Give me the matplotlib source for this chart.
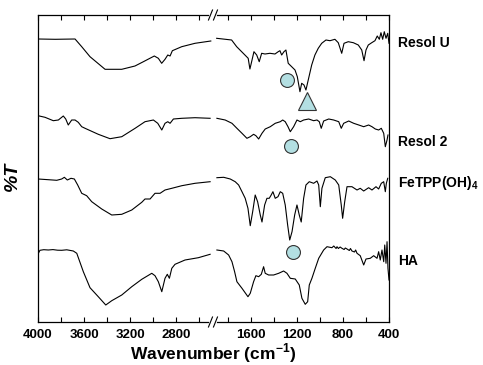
import numpy as np
import matplotlib
matplotlib.use("Agg")
import matplotlib.pyplot as plt

plt.rcParams['font.family'] = ['Liberation Sans', 'DejaVu Sans']
plt.rcParams['mathtext.fontset'] = 'custom'
plt.rcParams['mathtext.rm'] = 'Liberation Sans'
plt.rcParams['mathtext.bf'] = 'Liberation Sans:bold'

# FTIR traces. wavenumber (cm-1) and %T relative to each trace's baseline
resol_u_wn_l = [4000, 3850, 3678, 3620, 3548, 3417, 3272, 3157, 3084, 2989, 2954, 2925, 2896, 2872, 2852, 2832, 2751, 2635, 2498]
resol_u_t_l = [0, -0.3, 0, -7.7, -17.7, -30.3, -30.3, -27, -22.7, -17, -19.3, -24.3, -20.3, -16, -17, -11.7, -7.7, -4.3, -2]
resol_u_wn_r = [1898, 1768, 1724, 1667, 1624, 1609, 1594, 1574, 1550, 1528, 1507, 1478, 1435, 1391, 1363, 1348, 1333, 1313,
                1296, 1276, 1246, 1217, 1197, 1174, 1159, 1139, 1122, 1102, 1072, 1044, 1015, 985, 948, 913, 870, 841, 811,
                791, 754, 710, 667, 637, 617, 600, 580, 550, 522, 502, 484, 470, 455, 441, 426, 411, 400]
resol_u_t_r = [0.7, -1, -7.7, -14.3, -19.3, -30, -22.7, -12.7, -16, -22.7, -14.3, -15, -14.3, -15, -12.7, -11.7, -16, -12.7,
               -11, -24.3, -27.7, -31, -37.7, -52.7, -44.3, -46, -51, -41, -26, -16, -9.3, -4.3, -1, -1.7, -0.3, -3.7, -14.3,
               -4.3, -2.7, -3.7, -6, -11, -21.7, -11, -6, -3.7, -1.7, 3, -0.3, 6.3, -0.3, 7.3, 0.7, 5.7, -4.3]

resol_2_wn_l = [4000, 3939, 3867, 3823, 3780, 3759, 3737, 3707, 3678, 3650, 3620, 3591, 3476, 3374, 3272, 3156, 3070, 2997,
                2959, 2924, 2896, 2872, 2852, 2823, 2750, 2635, 2504]
resol_2_t_l = [2.3, 0.7, -2.7, -2, 2, -1, -7, -2, -2, -4.3, -8.7, -10.3, -16.3, -20.7, -18.7, -10.3, -3.7, -2,
               -5.3, -12, -5.3, -3.7, -5.3, -1, -0.3, 0.3, -0.3]
resol_2_wn_r = [1896, 1824, 1765, 1722, 1678, 1635, 1606, 1577, 1557, 1533, 1504, 1476, 1432, 1389, 1345, 1324, 1302, 1278,
                1258, 1229, 1200, 1171, 1142, 1098, 1055, 1026, 1006, 989, 968, 924, 881, 837, 815, 794, 750, 707, 663, 620,
                577, 548, 519, 490, 467, 446, 432, 417, 409]
resol_2_t_r = [-0.3, -2, -5.3, -10.3, -15.3, -20.3, -18.7, -16.3, -17.7, -21, -15.3, -11, -8.7, -5.3, -3.7, -2, -3.7, -8.7,
               -13.7, -8.7, -2, -3.7, -2, -1, -2.7, -2, -3.7, -10.3, -3, -1, -2, -3.7, -10.3, -5.3, -3, -5.3, -7, -8.7,
               -7, -8.7, -11, -12, -10.3, -15.3, -28.7, -22, -17]

fetpp_wn_l = [4000, 3910, 3837, 3794, 3771, 3745, 3713, 3684, 3655, 3620, 3577, 3533, 3446, 3359, 3272, 3185, 3098, 3070,
              3026, 2983, 2939, 2896, 2837, 2750, 2635, 2504]
fetpp_t_l = [0, -0.7, -1.3, 0, 1.7, -1, 0.7, 0, -6, -14.3, -16.7, -22.7, -30, -36, -35.3, -31, -23.3, -20,
             -20, -14.3, -14.3, -11, -9.3, -6.7, -4.3, -2.7]
fetpp_wn_r = [1896, 1837, 1780, 1737, 1707, 1678, 1650, 1626, 1606, 1585, 1563, 1542, 1519, 1504, 1481, 1461, 1441, 1424,
              1409, 1389, 1365, 1345, 1324, 1302, 1281, 1263, 1243, 1220, 1200, 1180, 1163, 1142, 1122, 1093, 1055, 1026,
              1011, 997, 983, 954, 910, 867, 837, 815, 803, 785, 765, 722, 678, 650, 620, 577, 548, 513, 490, 467, 446,
              432, 423, 411]
fetpp_t_r = [1.3, 1.7, 0, -2.7, -6, -12.7, -19.3, -29.3, -46.7, -32.7, -16, -22.7, -36, -43, -26, -19.3, -19.3, -16,
             -12.7, -19.3, -17.7, -12.7, -14.3, -26, -46, -61, -52.7, -36, -26, -36, -43, -19.3, -6, -2.7, -4.3, -2,
             -6, -27.7, -9.3, 1.3, 2.3, -1, -6, -26, -39.3, -22.7, -7.7, -7.7, -11, -9.3, -12, -8.7, -11, -7.7, -10, -4.3, -2.7,
             -12.7, -4.3, 0.7]

ha_wn_l = [4000, 3983, 3950, 3910, 3870, 3830, 3794, 3750, 3693, 3663, 3606, 3548, 3476, 3411, 3359, 3272, 3185, 3098, 3011,
           2983, 2954, 2924, 2896, 2876, 2858, 2837, 2809, 2722, 2606, 2504]
ha_t_l = [-4, -0.3, 0.3, 0, 0.4, -0.2, -0.3, 0.2, -1, -3.3, -21.7, -37.7, -46.7, -55, -50.7, -45, -36.7, -29.3, -23.3,
          -25.7, -31.7, -41.7, -28.3, -24.3, -28.3, -18.3, -14.3, -10, -7.7, -4.3]
ha_wn_r = [1896, 1837, 1794, 1765, 1742, 1722, 1678, 1626, 1606, 1577, 1557, 1533, 1510, 1490, 1476, 1446, 1403, 1359,
           1316, 1287, 1258, 1215, 1180, 1157, 1128, 1107, 1093, 1070, 1041, 1011, 968, 939, 896, 880, 860, 852, 840,
           825, 809, 790, 780, 765, 745, 735, 722, 700, 690, 678, 650, 620, 600, 563, 533, 504, 490, 476, 461, 446, 437,
           426, 417, 409, 400]
ha_t_r = [0, -1, -5, -11.7, -21.7, -31.7, -38.3, -46.7, -43.3, -31.7, -25.7, -26.7, -24.3, -16.7, -23.3, -25, -25, -23.3,
          -21, -23.3, -28.3, -29, -35, -48.3, -54.3, -51.7, -35, -28.3, -18.3, -8.3, 0, 3.3, 2.3, 4, 1.5, 3.3, 1.5,
          3, 1.7, 0.5, 2, 1, -0.5, 1.5, -1, -2, 0, -3.3, -5.7, -15, -9, -8.3, -5.7, -8.3, -1.7, -10, 0, -11.7, 5,
          -13.3, 8.3, -18.3, -30]

names = ['Resol U', 'Resol 2', 'FeTPP(OH)$_\\mathbf{4}$', 'HA']
offsets = [283, 204, 143, 72]
label_y = [43.3, 141.7, 183.5, 261]

# band markers: (wavenumber, %T relative to the trace)
circle_wn = [1290, 1252, 1232]
circle_t = [-41, -28, -1.7]
circle_of = [0, 1, 3]
tri_wn = [1110]
tri_t = [-62]
tri_of = [0]

traces = [
    (resol_u_wn_l, resol_u_t_l, resol_u_wn_r, resol_u_t_r),
    (resol_2_wn_l, resol_2_t_l, resol_2_wn_r, resol_2_t_r),
    (fetpp_wn_l, fetpp_t_l, fetpp_wn_r, fetpp_t_r),
    (ha_wn_l, ha_t_l, ha_wn_r, ha_t_r),
]

# broken axis: squeeze 2480..1930 down to nothing
B1, B2, G = 2480.0, 1930.0, 1.0

def fwd(x):
    x = np.asarray(x, float)
    return np.where(x <= B2, x, np.where(x >= B1, x - (B1 - B2) + G, B2 + (x - B2) * G / (B1 - B2)))

def inv(u):
    u = np.asarray(u, float)
    return np.where(u <= B2, u, np.where(u >= B2 + G, u + (B1 - B2) - G, B2 + (u - B2) * (B1 - B2) / G))

fig = plt.figure(figsize=(4.83, 3.65), dpi=100)
ax = fig.add_axes([38 / 483, 43 / 365, 351 / 483, 307 / 365])
ax.set_xscale('function', functions=(fwd, inv))

for (wl, tl, wr, tr), off in zip(traces, offsets):
    ax.plot(wl, np.array(tl) + off, c='black', lw=0.8)
    ax.plot(wr, np.array(tr) + off, c='black', lw=0.8)

ax.plot(circle_wn, [t + offsets[i] for t, i in zip(circle_t, circle_of)], 'o', ms=10,
        mfc='#b3dfe2', mec='#333333', mew=0.8, ls='none')
ax.plot(tri_wn, [t + offsets[i] for t, i in zip(tri_t, tri_of)], '^', ms=13,
        mfc='#b3dfe2', mec='#333333', mew=0.8, ls='none')

ax.set_xlim(4000, 400)
ax.set_ylim(0, 307)
ax.set_yticks([])
ax.set_xticks([4000, 3600, 3200, 2800, 1600, 1200, 800, 400])
ax.set_xticks([3800, 3400, 3000, 2600, 1800, 1400, 1000, 600], minor=True)
ax.tick_params(axis='x', which='both', direction='in', top=True, length=3.5, width=0.8, pad=5)
for lab in ax.get_xticklabels():
    lab.set_fontweight('bold')
    lab.set_fontsize(9.5)
for s in ax.spines.values():
    s.set_linewidth(0.9)

ax.set_xlabel('Wavenumber (cm$^{\\mathbf{-1}}$)', fontsize=12.5, fontweight='bold', labelpad=0.5)
fig.text(12 / 483, 1 - 176 / 365, '%T', rotation=90, fontsize=14, fontweight='bold',
         fontstyle='italic', ha='center', va='center')

for name, ly in zip(names, label_y):
    fig.text(398 / 483, 1 - ly / 365, name, fontsize=10, fontweight='bold', ha='left', va='center')

# break marks on top and bottom spines
span = fwd(4000) - fwd(400)
xb = float((fwd(4000) - fwd(B2)) / span)
px, py = 1 / 351, 1 / 307
for yb in (0, 1):
    ax.plot([xb - 2.5 * px, xb + 2.5 * px], [yb, yb], transform=ax.transAxes, c='white', lw=2,
            clip_on=False, zorder=5)
    for c in (xb - 2.5 * px, xb + 2.5 * px):
        ax.plot([c - 2 * px, c + 2 * px], [yb - 5 * py, yb + 5 * py], transform=ax.transAxes,
                c='black', lw=0.8, clip_on=False, zorder=6)

fig.savefig('out.png', dpi=100)
